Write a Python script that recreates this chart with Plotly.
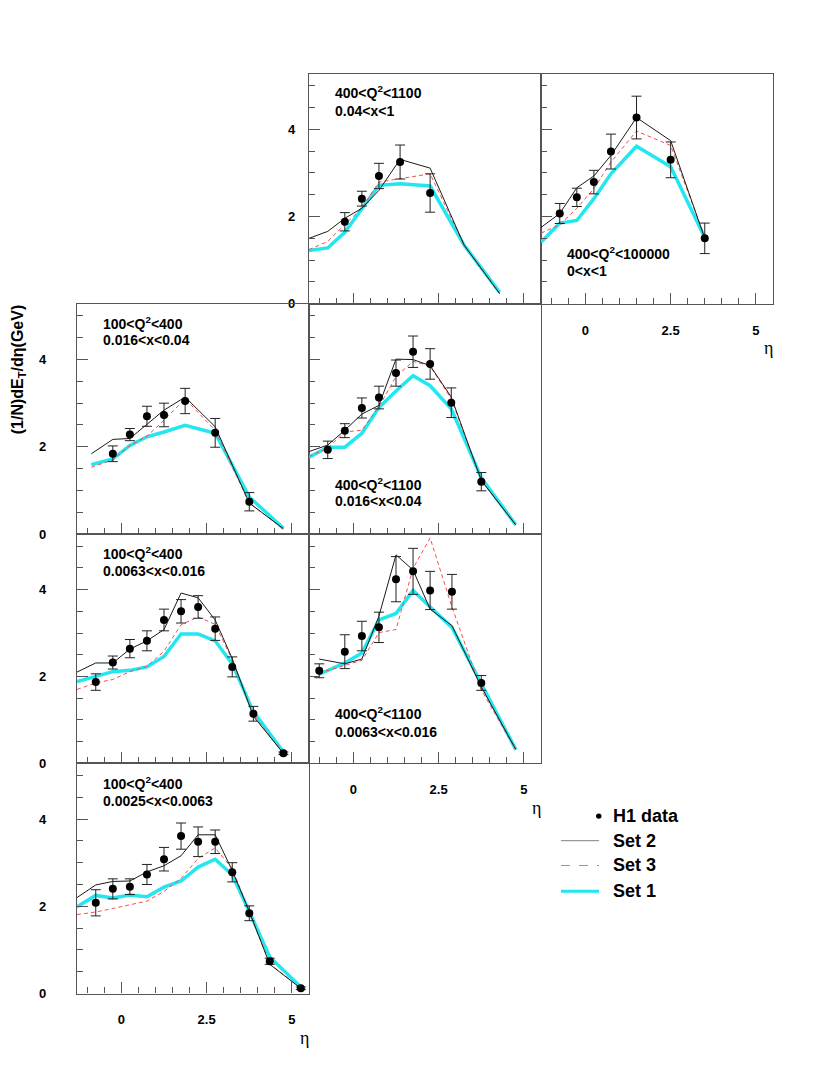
import plotly.graph_objects as go

# ---------------- data ----------------
# Panel A: 400<Q2<1100, 0.04<x<1
a_curve_eta = [-1.3, -0.75, -0.25, 0.25, 0.75, 1.37, 2.25, 3.25, 4.29]
a_set2 = [1.50, 1.66, 1.96, 2.19, 2.60, 3.31, 3.11, 1.34, 0.23]
a_set3 = [1.24, 1.43, 1.82, 2.19, 2.79, 2.87, 2.98, 1.34, 0.23]
a_set1 = [1.22, 1.28, 1.64, 2.19, 2.72, 2.75, 2.70, 1.34, 0.26]
a_data_eta = [-0.25, 0.25, 0.75, 1.37, 2.25]
a_data = [1.88, 2.41, 2.93, 3.25, 2.54]
a_err = [0.21, 0.17, 0.29, 0.39, 0.44]

# Panel B: 400<Q2<100000, 0<x<1
b_curve_eta = [-1.3, -0.75, -0.25, 0.25, 0.75, 1.5, 2.5, 3.5]
b_set2 = [1.75, 2.07, 2.66, 2.93, 3.40, 4.27, 3.74, 1.50]
b_set3 = [1.62, 1.81, 2.19, 2.64, 3.25, 3.96, 3.63, 1.53]
b_set1 = [1.41, 1.85, 1.91, 2.41, 2.98, 3.61, 3.14, 1.52]
b_data_eta = [-0.75, -0.25, 0.25, 0.75, 1.5, 2.5, 3.5]
b_data = [2.07, 2.44, 2.79, 3.49, 4.27, 3.30, 1.50]
b_err = [0.23, 0.21, 0.27, 0.40, 0.49, 0.41, 0.35]

# Panel C: 100<Q2<400, 0.016<x<0.04
c_curve_eta = [-0.88, -0.25, 0.25, 0.75, 1.25, 1.87, 2.75, 3.75, 4.75]
c_set2 = [1.84, 2.17, 2.19, 2.51, 2.84, 3.14, 2.46, 0.71, 0.12]
c_set3 = [1.53, 1.70, 2.03, 2.24, 2.61, 3.10, 2.38, 0.71, 0.12]
c_set1 = [1.59, 1.72, 2.03, 2.23, 2.34, 2.49, 2.31, 0.85, 0.13]
c_data_eta = [-0.25, 0.25, 0.75, 1.25, 1.87, 2.75, 3.75]
c_data = [1.84, 2.28, 2.70, 2.73, 3.05, 2.32, 0.74]
c_err = [0.18, 0.14, 0.23, 0.27, 0.29, 0.33, 0.21]

# Panel D: 400<Q2<1100, 0.016<x<0.04
d_curve_eta = [-1.3, -0.75, -0.25, 0.25, 0.75, 1.25, 1.75, 2.25, 2.87, 3.75, 4.76]
d_set2 = [1.89, 2.04, 2.38, 2.75, 2.95, 4.01, 4.00, 3.86, 3.14, 1.23, 0.21]
d_set3 = [1.78, 1.97, 2.34, 2.38, 2.92, 3.61, 3.96, 3.85, 3.10, 1.23, 0.21]
d_set1 = [1.76, 1.99, 1.99, 2.31, 2.90, 3.28, 3.63, 3.40, 2.87, 1.29, 0.21]
d_data_eta = [-0.75, -0.25, 0.25, 0.75, 1.25, 1.75, 2.25, 2.87, 3.75]
d_data = [1.93, 2.37, 2.89, 3.13, 3.69, 4.18, 3.90, 3.01, 1.20]
d_err = [0.20, 0.16, 0.23, 0.26, 0.30, 0.36, 0.35, 0.34, 0.21]

# Panel E: 100<Q2<400, 0.0063<x<0.016
e_curve_eta = [-1.3, -0.75, -0.25, 0.25, 0.75, 1.25, 1.75, 2.25, 2.75, 3.25, 3.87, 4.75]
e_set2 = [2.10, 2.31, 2.31, 2.63, 2.82, 3.08, 3.92, 3.81, 3.30, 2.41, 1.08, 0.23]
e_set3 = [1.70, 1.85, 1.93, 2.11, 2.23, 2.58, 3.19, 3.37, 3.20, 2.38, 1.12, 0.23]
e_set1 = [1.88, 1.99, 2.11, 2.14, 2.22, 2.46, 2.98, 2.98, 2.82, 2.29, 1.19, 0.26]
e_data_eta = [-0.75, -0.25, 0.25, 0.75, 1.25, 1.75, 2.25, 2.75, 3.25, 3.87, 4.75]
e_data = [1.87, 2.32, 2.64, 2.82, 3.30, 3.50, 3.60, 3.10, 2.22, 1.14, 0.23]
e_err = [0.19, 0.15, 0.21, 0.23, 0.25, 0.27, 0.26, 0.27, 0.23, 0.17, 0.03]

# Panel F: 400<Q2<1100, 0.0063<x<0.016
f_curve_eta = [-1.0, -0.25, 0.25, 0.75, 1.25, 1.75, 2.25, 2.89, 3.75, 4.76]
f_set2 = [2.40, 2.29, 2.40, 3.39, 4.80, 4.45, 3.55, 3.17, 1.76, 0.32]
f_set3 = [2.08, 2.25, 2.37, 3.01, 3.08, 4.49, 5.19, 3.60, 1.69, 0.31]
f_set1 = [2.05, 2.31, 2.54, 3.30, 3.45, 3.98, 3.60, 3.13, 1.83, 0.32]
f_data_eta = [-1.0, -0.25, 0.25, 0.75, 1.25, 1.75, 2.25, 2.89, 3.75]
f_data = [2.13, 2.57, 2.93, 3.13, 4.24, 4.42, 3.98, 3.95, 1.85]
f_err = [0.16, 0.39, 0.34, 0.35, 0.52, 0.53, 0.44, 0.40, 0.17]

# Panel G: 100<Q2<400, 0.0025<x<0.0063
g_curve_eta = [-1.3, -0.75, -0.25, 0.25, 0.75, 1.25, 1.75, 2.25, 2.75, 3.25, 3.75, 4.35, 5.26]
g_set2 = [2.20, 2.49, 2.57, 2.58, 2.79, 2.93, 3.16, 3.64, 3.64, 2.82, 1.88, 0.67, 0.12]
g_set3 = [1.81, 1.87, 1.95, 2.03, 2.12, 2.34, 2.64, 3.10, 3.34, 2.87, 1.86, 0.68, 0.12]
g_set1 = [1.99, 2.25, 2.19, 2.26, 2.22, 2.44, 2.58, 2.90, 3.08, 2.72, 1.88, 0.84, 0.15]
g_data_eta = [-0.75, -0.25, 0.25, 0.75, 1.25, 1.75, 2.25, 2.75, 3.25, 3.75, 4.35, 5.26]
g_data = [2.08, 2.40, 2.45, 2.73, 3.08, 3.61, 3.48, 3.48, 2.78, 1.84, 0.74, 0.12]
g_err = [0.30, 0.23, 0.18, 0.23, 0.27, 0.30, 0.34, 0.27, 0.22, 0.17, 0.07, 0.03]

x_tick_vals = [0, 2.5, 5]
x_tick_text = ["0", "2.5", "5"]
y_tick_vals = [0, 2, 4]
y_tick_text = ["0", "2", "4"]
legend_labels = ["H1 data", "Set 2", "Set 3", "Set 1"]

# ---------------- layout geometry (reference-page pixels) ----------------
PAGE_W, PAGE_H = 834, 1079
OFF = 8  # default body margin of the html page
W, H = PAGE_W - 2 * OFF, PAGE_H - 2 * OFF
COLS = [(77, 309), (309, 541), (541, 773)]
ROWS = [(74, 306), (306, 538), (538, 769), (769, 1001)]


def fx(px):
    return (px - OFF) / W


def fy(py):
    return 1 - (py - OFF) / H


FONT = "Liberation Sans, Arial, sans-serif"
C_SET1 = "#22E6F0"
C_SET2 = "#1a1a1a"
C_SET3 = "#F05050"
AX_COL = "#555555"

panels = [
    dict(row=0, col=1, l1="400&lt;Q<sup>2</sup>&lt;1100", l2="0.04&lt;x&lt;1", ty=(93, 112),
         ce=a_curve_eta, s1=a_set1, s2=a_set2, s3=a_set3, de=a_data_eta, d=a_data, e=a_err,
         xl=False, yl=True, ystand=10),
    dict(row=0, col=2, l1="400&lt;Q<sup>2</sup>&lt;100000", l2="0&lt;x&lt;1", ty=(255, 273),
         ce=b_curve_eta, s1=b_set1, s2=b_set2, s3=b_set3, de=b_data_eta, d=b_data, e=b_err,
         xl=True, yl=False, ystand=10),
    dict(row=1, col=0, l1="100&lt;Q<sup>2</sup>&lt;400", l2="0.016&lt;x&lt;0.04", ty=(325, 343),
         ce=c_curve_eta, s1=c_set1, s2=c_set2, s3=c_set3, de=c_data_eta, d=c_data, e=c_err,
         xl=False, yl=True, ystand=27),
    dict(row=1, col=1, l1="400&lt;Q<sup>2</sup>&lt;1100", l2="0.016&lt;x&lt;0.04", ty=(488, 505),
         ce=d_curve_eta, s1=d_set1, s2=d_set2, s3=d_set3, de=d_data_eta, d=d_data, e=d_err,
         xl=False, yl=False, ystand=10),
    dict(row=2, col=0, l1="100&lt;Q<sup>2</sup>&lt;400", l2="0.0063&lt;x&lt;0.016", ty=(557, 575),
         ce=e_curve_eta, s1=e_set1, s2=e_set2, s3=e_set3, de=e_data_eta, d=e_data, e=e_err,
         xl=False, yl=True, ystand=27),
    dict(row=2, col=1, l1="400&lt;Q<sup>2</sup>&lt;1100", l2="0.0063&lt;x&lt;0.016", ty=(718, 737),
         ce=f_curve_eta, s1=f_set1, s2=f_set2, s3=f_set3, de=f_data_eta, d=f_data, e=f_err,
         xl=True, yl=False, ystand=10),
    dict(row=3, col=0, l1="100&lt;Q<sup>2</sup>&lt;400", l2="0.0025&lt;x&lt;0.0063", ty=(789, 807),
         ce=g_curve_eta, s1=g_set1, s2=g_set2, s3=g_set3, de=g_data_eta, d=g_data, e=g_err,
         xl=True, yl=True, ystand=27),
]

fig = go.Figure()
annotations = []
shapes = []

for i, p in enumerate(panels, start=1):
    sfx = "" if i == 1 else str(i)
    xa, ya = "x" + sfx, "y" + sfx
    x0, x1 = COLS[p["col"]]
    y0, y1 = ROWS[p["row"]]

    fig.add_trace(go.Scatter(x=p["ce"], y=p["s1"], mode="lines", xaxis=xa, yaxis=ya,
                             line=dict(color=C_SET1, width=3.5), showlegend=False, hoverinfo="skip"))
    fig.add_trace(go.Scatter(x=p["ce"], y=p["s3"], mode="lines", xaxis=xa, yaxis=ya,
                             line=dict(color=C_SET3, width=1, dash="4px,3px"), showlegend=False,
                             hoverinfo="skip"))
    fig.add_trace(go.Scatter(x=p["ce"], y=p["s2"], mode="lines", xaxis=xa, yaxis=ya,
                             line=dict(color=C_SET2, width=1), showlegend=False, hoverinfo="skip"))
    fig.add_trace(go.Scatter(x=p["de"], y=p["d"], mode="markers", xaxis=xa, yaxis=ya,
                             marker=dict(color="black", size=8),
                             error_y=dict(type="data", array=p["e"], visible=True, color="#222",
                                          thickness=1, width=5),
                             showlegend=False))

    fig.layout["xaxis" + sfx] = dict(
        domain=[fx(x0), fx(x1)], anchor=ya, range=[-1.3, 5.5],
        showline=True, mirror=True, linecolor=AX_COL, linewidth=1.3,
        showgrid=False, zeroline=False,
        ticks="inside", tickvals=x_tick_vals, ticktext=x_tick_text, ticklen=11,
        tickcolor=AX_COL, tickwidth=1,
        minor=dict(ticks="inside", dtick=0.5, tick0=0, ticklen=6, tickcolor=AX_COL, tickwidth=1),
        showticklabels=p["xl"], ticklabelstandoff=14,
        tickfont=dict(family=FONT, size=13, color="black", weight="bold"),
    )
    fig.layout["yaxis" + sfx] = dict(
        domain=[fy(y1), fy(y0)], anchor=xa, range=[0, 5.28],
        showline=True, mirror=True, linecolor=AX_COL, linewidth=1.3,
        showgrid=False, zeroline=False,
        ticks="inside", tickvals=y_tick_vals, ticktext=y_tick_text, ticklen=11,
        tickcolor=AX_COL, tickwidth=1,
        minor=dict(ticks="inside", dtick=0.5, tick0=0, ticklen=6, tickcolor=AX_COL, tickwidth=1),
        showticklabels=p["yl"], ticklabelstandoff=p["ystand"],
        tickfont=dict(family=FONT, size=13, color="black", weight="bold"),
    )

    tx = x0 + 24
    for txt, ty in ((p["l1"], p["ty"][0]), (p["l2"], p["ty"][1])):
        annotations.append(dict(x=fx(tx), y=fy(ty), xref="paper", yref="paper", text=txt,
                                showarrow=False, xanchor="left", yanchor="middle",
                                font=dict(family=FONT, size=14, color="black", weight="bold")))

    if p["xl"]:
        annotations.append(dict(x=fx(x1 - 5), y=fy(y1 + 45), xref="paper", yref="paper", text="η",
                                showarrow=False, xanchor="center", yanchor="middle",
                                font=dict(family="Liberation Serif, serif", size=18, color="black")))

# y-axis title
annotations.append(dict(x=fx(18), y=fy(372), xref="paper", yref="paper",
                        text="(1/N)dE<sub>T</sub>/dη(GeV)", textangle=-90, showarrow=False,
                        xanchor="center", yanchor="middle",
                        font=dict(family=FONT, size=16, color="black", weight="bold")))

# legend (drawn manually)
leg_y = [822, 847, 872, 898]
leg_text_x = 611
for lab, ly in zip(legend_labels, leg_y):
    annotations.append(dict(x=fx(leg_text_x), y=fy(ly), xref="paper", yref="paper", text=lab,
                            showarrow=False, xanchor="left", yanchor="middle",
                            font=dict(family=FONT, size=18, color="black", weight="bold")))
shapes.append(dict(type="circle", xref="paper", yref="paper",
                   x0=fx(596), x1=fx(601.5), y0=fy(825), y1=fy(819.5),
                   fillcolor="black", line=dict(color="black", width=0)))
shapes.append(dict(type="line", xref="paper", yref="paper", x0=fx(561), x1=fx(599),
                   y0=fy(leg_y[1]), y1=fy(leg_y[1]), line=dict(color="#999999", width=1.2)))
shapes.append(dict(type="line", xref="paper", yref="paper", x0=fx(561), x1=fx(599),
                   y0=fy(leg_y[2]), y1=fy(leg_y[2]), line=dict(color="#F07070", width=1, dash="dash")))
shapes.append(dict(type="line", xref="paper", yref="paper", x0=fx(561), x1=fx(599),
                   y0=fy(leg_y[3]), y1=fy(leg_y[3]), line=dict(color=C_SET1, width=3)))

fig.update_layout(
    width=W, height=H, margin=dict(l=0, r=0, t=0, b=0),
    paper_bgcolor="white", plot_bgcolor="white",
    showlegend=False, annotations=annotations, shapes=shapes,
    font=dict(family=FONT, color="black"),
)

fig.write_html("out.html")
